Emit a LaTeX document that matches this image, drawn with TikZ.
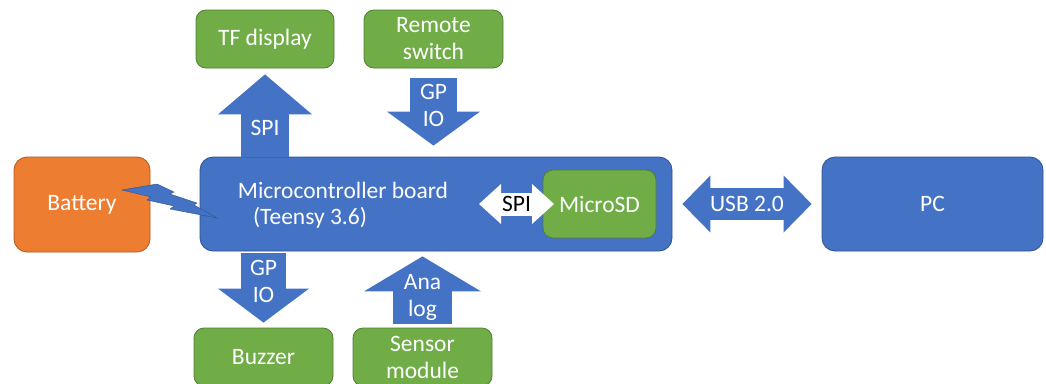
\documentclass[tikz,border=0pt]{standalone}
\usepackage{fontspec}
\setmainfont{Carlito}
\usetikzlibrary{arrows.meta}
\definecolor{office-blue}{HTML}{4472C4}
\definecolor{office-blue-dark}{HTML}{2F528F}
\definecolor{office-green}{HTML}{70AD47}
\definecolor{office-green-dark}{HTML}{507E32}
\definecolor{office-orange}{HTML}{ED7D31}
\definecolor{office-orange-dark}{HTML}{AE5A21}

\begin{document}
\begin{tikzpicture}[x=1pt, y=-1pt,
    every node/.style={font=\fontsize{23.5}{27}\selectfont, text=white, align=center},
    board/.style={draw=office-blue-dark, fill=office-blue, line width=0.8pt,
                  rounded corners=13pt, inner sep=0pt},
    module/.style={draw=office-green-dark, fill=office-green, line width=0.8pt,
                   rounded corners=10pt, inner sep=0pt},
    busup/.style n args={3}{draw=office-blue, line width=#1,
                  -{Triangle[width=#2, length=#3, line width=0pt]}},
    busboth/.style n args={3}{line width=#1,
                  {Triangle[width=#2, length=#3, line width=0pt]}-{Triangle[width=#2, length=#3, line width=0pt]}}]
    % Diagram: Teensy board in the middle, peripherals round it.
    % Coordinates: (x, y) in pt, y grows downwards
    %   battery (82,204.5), board (436,204), PC (932.5,204)
    %   TF display (265,39), remote switch (433.5,39)
    %   buzzer (263.5,357), sensor module (422.5,357)
    \useasboundingbox (0,0) rectangle (1046,383);
    \node[draw=office-orange-dark, fill=office-orange, line width=0.8pt, rounded corners=13pt,
          minimum width=136pt, minimum height=95pt] (battery) at (82,204.5) {Battery};
    \node[board, minimum width=472pt, minimum height=94pt] (mcu) at (436,204) {};
    \node (mcutitle) at (343,190) {Microcontroller board};
    \node (mcusub) at (310,218) {(Teensy 3.6)};
    \node[board, minimum width=221pt, minimum height=94pt] (pc) at (932.5,204) {PC};
    \node[module, minimum width=113pt, minimum height=68pt] (sd) at (599.5,204) {MicroSD};
    \node[module, minimum width=138pt, minimum height=58pt] (tf) at (265,39) {TF display};
    \node[module, minimum width=139pt, minimum height=58pt] (remote) at (433.5,39) {Remote\\switch};
    \node[module, minimum width=139pt, minimum height=58pt] (buzzer) at (263.5,357) {Buzzer};
    \node[module, minimum width=139pt, minimum height=58pt] (sensor) at (422.5,357) {Sensor\\module};

    % block arrows between board and peripherals
    \draw[busup={48pt}{94pt}{40pt}, shorten >=6pt]
        (mcu.north -| tf.south) -- (tf.south) node[pos=0.33] (spitf) {SPI};
    \draw[busup={47pt}{93pt}{34pt}, shorten <=10pt, shorten >=11pt]
        (remote.south) -- (mcu.north -| remote.south) node[pos=0.42] (gpiorem) {GP\\IO};
    \draw[busup={45pt}{91pt}{34pt}, shorten <=2pt, shorten >=5pt]
        (mcu.south -| buzzer.north) -- (buzzer.north) node[pos=0.40] (gpiobuz) {GP\\IO};
    \draw[busup={59pt}{117pt}{35pt}, shorten <=4pt, shorten >=5pt]
        (sensor.north) -- (mcu.south -| sensor.north) node[pos=0.40] (analog) {Ana\\log};
    \draw[office-blue, busboth={32pt}{57pt}{28pt}, shorten <=10pt, shorten >=10pt]
        (mcu.east) -- (pc.west) node[midway] (usb) {USB 2.0};
    \coordinate (spileft) at (479,204);
    \coordinate (spiright) at (554,204);
    \draw[white, busboth={23pt}{40pt}{22pt}]
        (spileft) -- (spiright) node[midway, text=black] (spisd) {SPI};

    % power: lightning bolt from battery to board
    \fill[office-blue, draw=office-blue-dark, line width=0.4pt]
        (122,190) -- (157,184) -- (174,192) -- (170,194) -- (197,203) -- (194,205)
        -- (217,218) -- (170,209) -- (174,206) -- (147,200) -- (151,197) -- cycle;
\end{tikzpicture}
\end{document}
